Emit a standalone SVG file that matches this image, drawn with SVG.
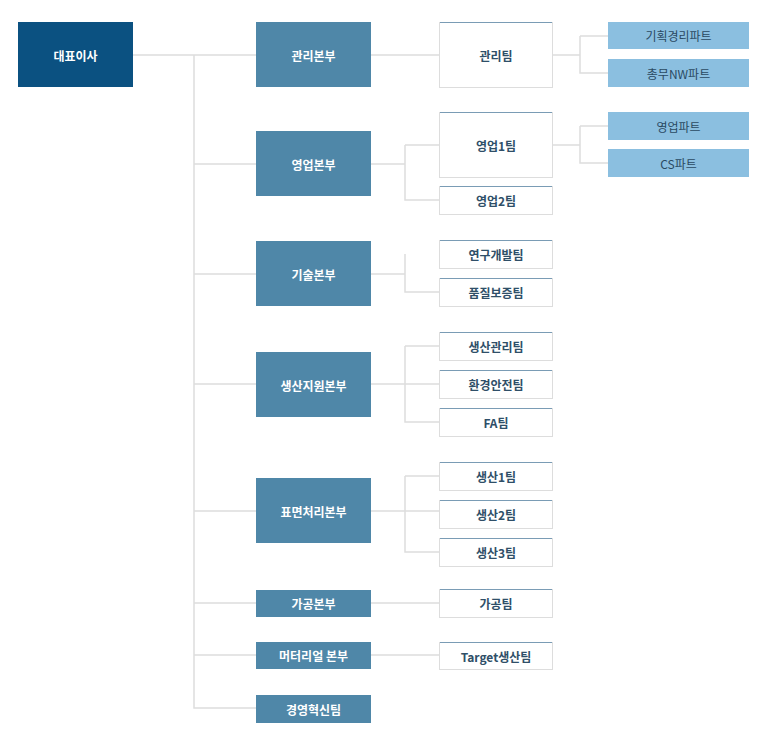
<svg xmlns="http://www.w3.org/2000/svg" width="773" height="736" viewBox="0 0 773 736">
<style>
text{font-family:"Noto Sans CJK KR","Noto Sans",sans-serif;font-size:12px;font-weight:bold;text-anchor:middle;dominant-baseline:central}
.ceo{fill:#0b5181}.div{fill:#4f87a8}.w{fill:#fff}.team{fill:#fff;stroke:#ddd}.tt{fill:#2f4f68}.part{fill:#8bbfe0}
.pt{fill:#2a4a62;font-weight:normal}.c path{stroke:#ddd;stroke-width:1.5;fill:none}
</style>
<g class="c">
<path d="M133 55H256M194 55V708H256M194 164H256M194 274H256M194 384H256M194 511H256M194 603H256M194 655H256"/>
<path d="M371 55H439M371 164H405M405 145V200H439M405 145H439M371 274H405M405 254V292H439M371 384H439M405 346V422H439M405 346H439M371 511H439M405 476V552H439M405 476H439M371 603H439M371 655H439"/>
<path d="M552 55H580M580 36V73H608M580 36H608M552 145H580M580 126V163H608M580 126H608"/>
</g>
<g id="ceo"><rect class="ceo" x="18" y="22" width="115" height="65"/><text class="w" x="75.5" y="55">대표이사</text></g>
<g id="d1"><rect class="div" x="256" y="22" width="115" height="65"/><text class="w" x="313.5" y="55">관리본부</text></g>
<g id="d2"><rect class="div" x="256" y="131" width="115" height="65"/><text class="w" x="313.5" y="164">영업본부</text></g>
<g id="d3"><rect class="div" x="256" y="241" width="115" height="65"/><text class="w" x="313.5" y="274">기술본부</text></g>
<g id="d4"><rect class="div" x="256" y="352" width="115" height="65"/><text class="w" x="313.5" y="385">생산지원본부</text></g>
<g id="d5"><rect class="div" x="256" y="478" width="115" height="65"/><text class="w" x="313.5" y="511">표면처리본부</text></g>
<g id="d6"><rect class="div" x="256" y="590" width="115" height="27"/><text class="w" x="313.5" y="603.5">가공본부</text></g>
<g id="d7"><rect class="div" x="256" y="642" width="115" height="27"/><text class="w" x="313.5" y="655.5">머터리얼 본부</text></g>
<g id="d8"><rect class="div" x="256" y="695" width="115" height="28"/><text class="w" x="313.5" y="709">경영혁신팀</text></g>
<g id="t1"><rect class="team" x="439.5" y="22.5" width="113" height="65"/><path d="M440 22.5H552" stroke="#7a9cb5"/><text class="tt" x="496" y="55">관리팀</text></g>
<g id="t2"><rect class="team" x="439.5" y="112.5" width="113" height="65"/><path d="M440 112.5H552" stroke="#7a9cb5"/><text class="tt" x="496" y="145">영업1팀</text></g>
<g id="t3"><rect class="team" x="439.5" y="186.5" width="113" height="28"/><path d="M440 186.5H552" stroke="#7a9cb5"/><text class="tt" x="496" y="200.5">영업2팀</text></g>
<g id="t4"><rect class="team" x="439.5" y="240.5" width="113" height="28"/><path d="M440 240.5H552" stroke="#7a9cb5"/><text class="tt" x="496" y="254.5">연구개발팀</text></g>
<g id="t5"><rect class="team" x="439.5" y="278.5" width="113" height="28"/><path d="M440 278.5H552" stroke="#7a9cb5"/><text class="tt" x="496" y="292.5">품질보증팀</text></g>
<g id="t6"><rect class="team" x="439.5" y="332.5" width="113" height="28"/><path d="M440 332.5H552" stroke="#7a9cb5"/><text class="tt" x="496" y="346.5">생산관리팀</text></g>
<g id="t7"><rect class="team" x="439.5" y="370.5" width="113" height="28"/><path d="M440 370.5H552" stroke="#7a9cb5"/><text class="tt" x="496" y="384.5">환경안전팀</text></g>
<g id="t8"><rect class="team" x="439.5" y="408.5" width="113" height="28"/><path d="M440 408.5H552" stroke="#7a9cb5"/><text class="tt" x="496" y="422.5">FA팀</text></g>
<g id="t9"><rect class="team" x="439.5" y="462.5" width="113" height="28"/><path d="M440 462.5H552" stroke="#7a9cb5"/><text class="tt" x="496" y="476.5">생산1팀</text></g>
<g id="t10"><rect class="team" x="439.5" y="500.5" width="113" height="28"/><path d="M440 500.5H552" stroke="#7a9cb5"/><text class="tt" x="496" y="514.5">생산2팀</text></g>
<g id="t11"><rect class="team" x="439.5" y="538.5" width="113" height="28"/><path d="M440 538.5H552" stroke="#7a9cb5"/><text class="tt" x="496" y="552.5">생산3팀</text></g>
<g id="t12"><rect class="team" x="439.5" y="589.5" width="113" height="28"/><path d="M440 589.5H552" stroke="#7a9cb5"/><text class="tt" x="496" y="603.5">가공팀</text></g>
<g id="t13"><rect class="team" x="439.5" y="642.5" width="113" height="27"/><path d="M440 642.5H552" stroke="#7a9cb5"/><text class="tt" x="496" y="656">Target생산팀</text></g>
<g id="p1"><rect class="part" x="608" y="22" width="141" height="27"/><text class="pt" x="678.5" y="35.5">기획경리파트</text></g>
<g id="p2"><rect class="part" x="608" y="59" width="141" height="28"/><text class="pt" x="678.5" y="73">총무NW파트</text></g>
<g id="p3"><rect class="part" x="608" y="112" width="141" height="28"/><text class="pt" x="678.5" y="126">영업파트</text></g>
<g id="p4"><rect class="part" x="608" y="149" width="141" height="28"/><text class="pt" x="678.5" y="163">CS파트</text></g>
</svg>
